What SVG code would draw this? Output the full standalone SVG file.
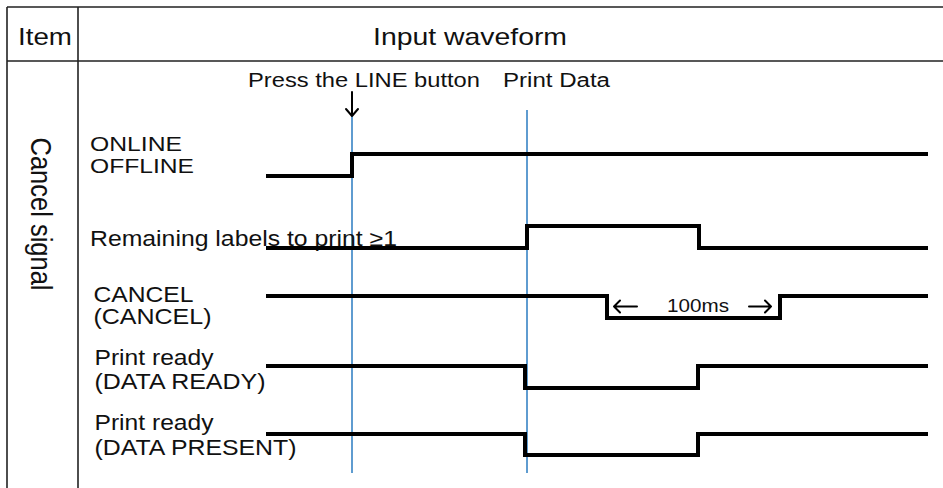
<svg xmlns="http://www.w3.org/2000/svg" width="943" height="488" viewBox="0 0 943 488">
<style>
  .t { font-family: "Liberation Sans", Arial, sans-serif; fill: #111; }
  .hdr { font-size: 24px; }
  .lbl { font-size: 21.5px; }
  .sm { font-size: 19.5px; }
  .grid { stroke: #222; stroke-width: 1.6; fill: none; }
  .wave { stroke: #000; stroke-width: 4; fill: none; stroke-linejoin: miter; stroke-linecap: square; }
  .marker { stroke: #2a7bc0; stroke-width: 1.5; fill: none; }
  .arr { stroke: #000; stroke-width: 2; fill: none; stroke-linecap: round; stroke-linejoin: round; }
</style>
<rect width="943" height="488" fill="#fff"/>
<g id="table">
  <path class="grid" d="M7,7 H943 M7,61 H943 M7,7 V488 M78,7 V488"/>
  <text class="t hdr" x="18" y="45" textLength="54" lengthAdjust="spacingAndGlyphs">Item</text>
  <text class="t hdr" x="373" y="45" textLength="194" lengthAdjust="spacingAndGlyphs">Input waveform</text>
  <text class="t" font-size="25.5" text-anchor="middle" transform="translate(31,214) scale(1.14,1) rotate(90)">Cancel signal</text>
</g>
<g id="events">
  <text class="t sm" x="248" y="87" textLength="232" lengthAdjust="spacingAndGlyphs">Press the LINE button</text>
  <text class="t sm" x="503" y="87" textLength="107" lengthAdjust="spacingAndGlyphs">Print Data</text>
</g>
<g id="connectors">
  <line class="marker" x1="352" y1="116" x2="352" y2="473"/>
  <line class="marker" x1="527" y1="110" x2="527" y2="473"/>
  <path class="arr" d="M352,92 V116 M346,109 L352,116 L358,109"/>
  <path class="arr" d="M614,306.5 H637 M620,300.5 L614,306.5 L620,312.5"/>
  <path class="arr" d="M749,306.5 H771 M765,300.5 L771,306.5 L765,312.5"/>
</g>
<g id="sig-online">
  <text class="t" font-size="20" x="90" y="150.5" textLength="92" lengthAdjust="spacingAndGlyphs">ONLINE</text>
  <text class="t" font-size="20" x="90" y="173" textLength="104" lengthAdjust="spacingAndGlyphs">OFFLINE</text>
  <path class="wave" d="M268,176 H352 V154 H926"/>
</g>
<g id="sig-remaining">
  <text class="t lbl" x="90" y="246" textLength="307" lengthAdjust="spacingAndGlyphs">Remaining labels to print ≥1</text>
  <path class="wave" d="M268,248 H527 V226 H699 V248 H926"/>
</g>
<g id="sig-cancel">
  <text class="t lbl" x="93.5" y="301.5" textLength="100" lengthAdjust="spacingAndGlyphs">CANCEL</text>
  <text class="t lbl" x="93.5" y="323.5" textLength="118" lengthAdjust="spacingAndGlyphs">(CANCEL)</text>
  <path class="wave" d="M268,296 H607 V318 H780 V296 H926"/>
  <text class="t" font-size="18.5" x="667" y="311.5" textLength="62" lengthAdjust="spacingAndGlyphs">100ms</text>
</g>
<g id="sig-dataready">
  <text class="t lbl" x="94.5" y="365" textLength="119" lengthAdjust="spacingAndGlyphs">Print ready</text>
  <text class="t lbl" x="94.5" y="389" textLength="171" lengthAdjust="spacingAndGlyphs">(DATA READY)</text>
  <path class="wave" d="M268,366 H525 V388 H698 V366 H926"/>
</g>
<g id="sig-datapresent">
  <text class="t lbl" x="94.5" y="430" textLength="119" lengthAdjust="spacingAndGlyphs">Print ready</text>
  <text class="t lbl" x="94.5" y="454.5" textLength="202" lengthAdjust="spacingAndGlyphs">(DATA PRESENT)</text>
  <path class="wave" d="M268,434 H525 V455 H698 V434 H926"/>
</g>
</svg>
